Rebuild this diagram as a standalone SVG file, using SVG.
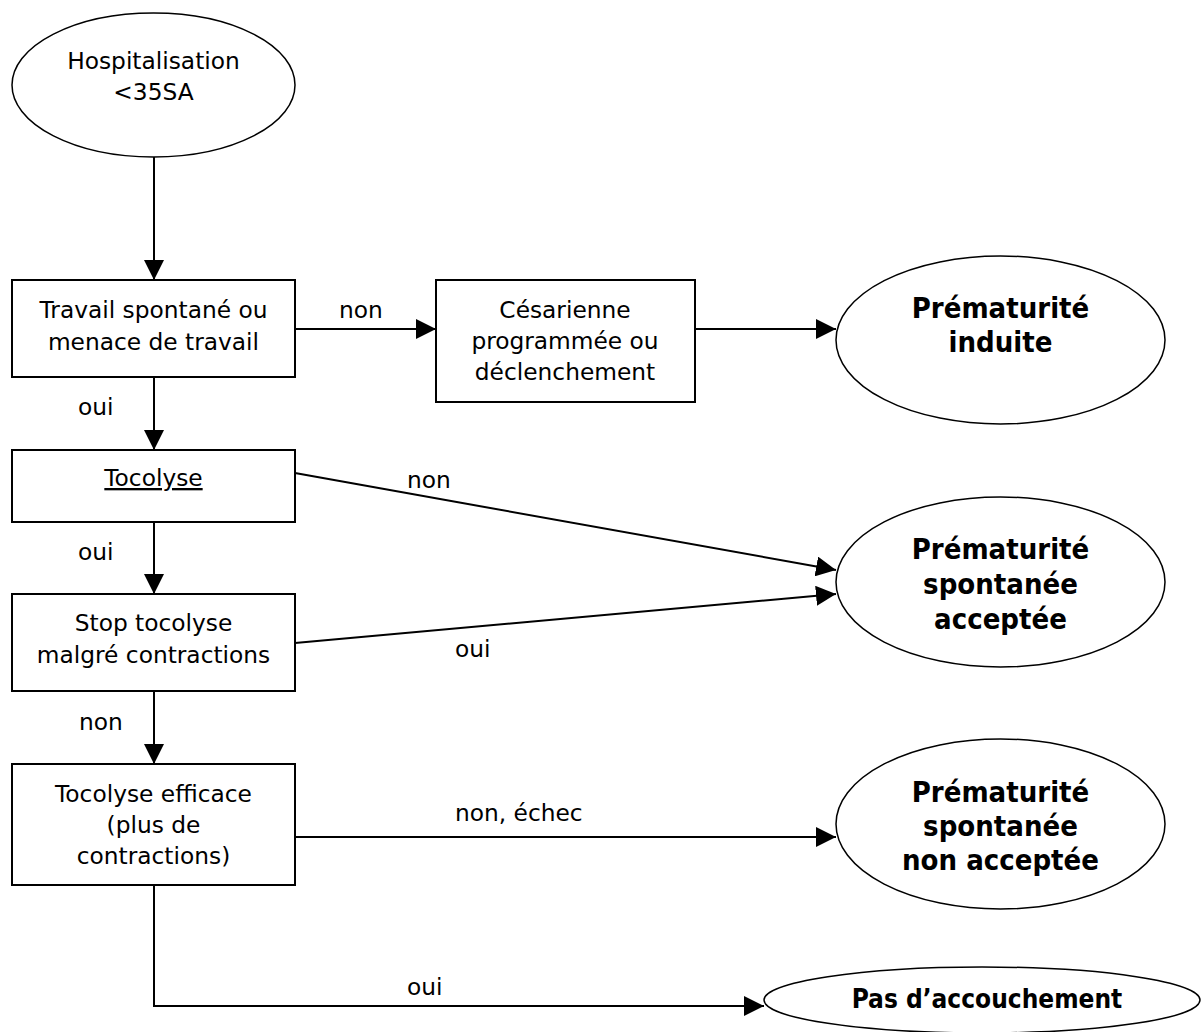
<svg xmlns="http://www.w3.org/2000/svg" width="1202" height="1032" viewBox="0 0 1202 1032">
<style>
  .box { fill: #fff; stroke: #000; stroke-width: 2; }
  .ell { fill: #fff; stroke: #000; stroke-width: 1.5; }
  .t { font-family: "DejaVu Sans", Verdana, sans-serif; font-size: 23.3px; fill: #000; }
  .c { text-anchor: middle; }
  .b { font-family: "DejaVu Sans Condensed", "DejaVu Sans", sans-serif; font-stretch: condensed; font-weight: bold; font-size: 29px; fill: #000; text-anchor: middle; }
  .edge { fill: none; stroke: #000; stroke-width: 2; marker-end: url(#arr); }
</style>
<defs>
  <marker id="arr" markerUnits="userSpaceOnUse" markerWidth="20" markerHeight="20" refX="20" refY="10" orient="auto" viewBox="0 0 20 20">
    <path d="M0,0 L20,10 L0,20 z" fill="#000"/>
  </marker>
</defs>
<rect width="1202" height="1032" fill="#fff"/>

<g id="connectors">
  <line class="edge" x1="154" y1="157" x2="154" y2="280"/>
  <line class="edge" x1="295" y1="329" x2="436" y2="329"/>
  <line class="edge" x1="695" y1="329" x2="836" y2="329"/>
  <line class="edge" x1="154" y1="377" x2="154" y2="450"/>
  <line class="edge" x1="295" y1="473" x2="836" y2="570"/>
  <line class="edge" x1="154" y1="522" x2="154" y2="594"/>
  <line class="edge" x1="295" y1="643" x2="836" y2="594"/>
  <line class="edge" x1="154" y1="691" x2="154" y2="764"/>
  <line class="edge" x1="295" y1="837" x2="836" y2="837"/>
  <polyline class="edge" points="154,885 154,1006 764,1006"/>
  <text class="t c" x="361" y="318">non</text>
  <text class="t" x="78" y="415">oui</text>
  <text class="t" x="407" y="488">non</text>
  <text class="t" x="78" y="560">oui</text>
  <text class="t" x="455" y="657">oui</text>
  <text class="t" x="79" y="730">non</text>
  <text class="t" x="455" y="821">non, échec</text>
  <text class="t" x="407" y="995">oui</text>
</g>

<g id="hospitalisation">
  <ellipse class="ell" cx="153.5" cy="85" rx="141.5" ry="72"/>
  <text class="t c" x="153.5" y="69">Hospitalisation</text>
  <text class="t c" x="153.5" y="100">&lt;35SA</text>
</g>

<g id="travail">
  <rect class="box" x="12" y="280" width="283" height="97"/>
  <text class="t c" x="153.5" y="318">Travail spontané ou</text>
  <text class="t c" x="153.5" y="350">menace de travail</text>
</g>

<g id="cesarienne">
  <rect class="box" x="436" y="280" width="259" height="122"/>
  <text class="t c" x="565" y="318">Césarienne</text>
  <text class="t c" x="565" y="349">programmée ou</text>
  <text class="t c" x="565" y="380">déclenchement</text>
</g>

<g id="prem-induite">
  <ellipse class="ell" cx="1000.5" cy="340" rx="164.5" ry="84"/>
  <text class="b" x="1000.5" y="318">Prématurité</text>
  <text class="b" x="1000.5" y="352">induite</text>
</g>

<g id="tocolyse">
  <rect class="box" x="12" y="450" width="283" height="72"/>
  <text class="t c" x="153.5" y="486" text-decoration="underline">Tocolyse</text>
</g>

<g id="prem-acceptee">
  <ellipse class="ell" cx="1000.5" cy="582" rx="164.5" ry="85"/>
  <text class="b" x="1000.5" y="559">Prématurité</text>
  <text class="b" x="1000.5" y="594">spontanée</text>
  <text class="b" x="1000.5" y="629">acceptée</text>
</g>

<g id="stop-tocolyse">
  <rect class="box" x="12" y="594" width="283" height="97"/>
  <text class="t c" x="153.5" y="631">Stop tocolyse</text>
  <text class="t c" x="153.5" y="663">malgré contractions</text>
</g>

<g id="tocolyse-efficace">
  <rect class="box" x="12" y="764" width="283" height="121"/>
  <text class="t c" x="153.5" y="802">Tocolyse efficace</text>
  <text class="t c" x="153.5" y="833">(plus de</text>
  <text class="t c" x="153.5" y="864">contractions)</text>
</g>

<g id="prem-non-acceptee">
  <ellipse class="ell" cx="1000.5" cy="824" rx="164.5" ry="85"/>
  <text class="b" x="1000.5" y="802">Prématurité</text>
  <text class="b" x="1000.5" y="836">spontanée</text>
  <text class="b" x="1000.5" y="870">non acceptée</text>
</g>

<g id="pas-accouchement">
  <ellipse class="ell" cx="982" cy="1000" rx="218" ry="33"/>
  <text class="b" x="987" y="1008" style="font-size:26px">Pas d’accouchement</text>
</g>
</svg>
